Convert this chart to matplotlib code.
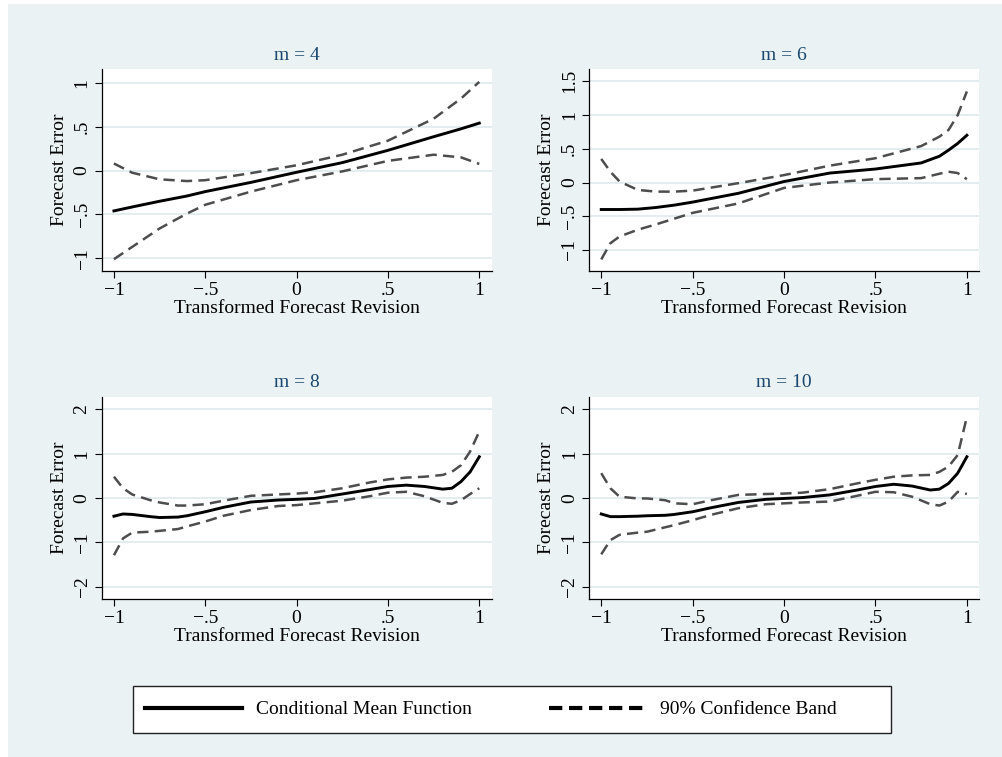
import matplotlib
matplotlib.use("Agg")
import matplotlib.pyplot as plt
from matplotlib.patches import Rectangle
from matplotlib.lines import Line2D

plt.rcParams['font.family'] = ['Liberation Serif', 'DejaVu Serif']

# values
x_m4 = [-1, -0.9, -0.75, -0.6, -0.5, -0.25, 0, 0.25, 0.5, 0.75, 0.9, 1]
mean_m4 = [-0.46, -0.415, -0.35, -0.29, -0.24, -0.135, -0.02, 0.09, 0.23, 0.385, 0.475, 0.54]
upper_m4 = [0.08, -0.025, -0.10, -0.12, -0.11, -0.03, 0.06, 0.18, 0.34, 0.59, 0.82, 1.01]
lower_m4 = [-1.01, -0.87, -0.66, -0.49, -0.39, -0.24, -0.11, -0.01, 0.11, 0.18, 0.15, 0.075]

x_m6 = [-1, -0.95, -0.9, -0.8, -0.7, -0.6, -0.5, -0.25, 0, 0.25, 0.5, 0.75, 0.85, 0.9, 0.95, 1]
mean_m6 = [-0.40, -0.40, -0.40, -0.395, -0.37, -0.335, -0.29, -0.16, 0.015, 0.14, 0.20, 0.29, 0.39, 0.48, 0.58, 0.70]
upper_m6 = [0.35, 0.16, 0.015, -0.11, -0.135, -0.135, -0.12, -0.01, 0.11, 0.25, 0.36, 0.54, 0.68, 0.78, 1.0, 1.35]
lower_m6 = [-1.14, -0.90, -0.80, -0.70, -0.62, -0.535, -0.45, -0.31, -0.08, 0.0, 0.05, 0.065, 0.13, 0.16, 0.14, 0.05]

x_m8 = [-1, -0.95, -0.9, -0.8, -0.75, -0.65, -0.6, -0.5, -0.4, -0.25, -0.1, 0,
        0.1, 0.25, 0.4, 0.5, 0.6, 0.7, 0.8, 0.85, 0.9, 0.95, 1]
mean_m8 = [-0.41, -0.36, -0.37, -0.42, -0.44, -0.43, -0.40, -0.31, -0.21, -0.09, -0.045, -0.03,
           -0.01, 0.09, 0.19, 0.26, 0.29, 0.26, 0.20, 0.22, 0.37, 0.59, 0.93]
upper_m8 = [0.48, 0.22, 0.08, -0.05, -0.10, -0.17, -0.17, -0.14, -0.06, 0.05, 0.08, 0.10,
            0.13, 0.22, 0.35, 0.42, 0.46, 0.48, 0.52, 0.59, 0.74, 1.05, 1.50]
lower_m8 = [-1.29, -0.91, -0.78, -0.76, -0.74, -0.70, -0.64, -0.53, -0.40, -0.27, -0.18, -0.16,
            -0.12, -0.06, 0.04, 0.12, 0.14, 0.04, -0.11, -0.13, -0.05, 0.09, 0.22]

x_m10 = x_m8
mean_m10 = [-0.36, -0.42, -0.42, -0.41, -0.40, -0.39, -0.37, -0.31, -0.22, -0.10, -0.03, -0.01,
            0.01, 0.07, 0.18, 0.26, 0.31, 0.27, 0.18, 0.20, 0.33, 0.56, 0.93]
upper_m10 = [0.56, 0.22, 0.03, -0.01, -0.01, -0.05, -0.12, -0.14, -0.05, 0.07, 0.09, 0.10,
             0.12, 0.20, 0.33, 0.41, 0.48, 0.51, 0.52, 0.59, 0.71, 0.97, 1.83]
lower_m10 = [-1.27, -0.95, -0.83, -0.78, -0.76, -0.66, -0.61, -0.50, -0.38, -0.23, -0.14, -0.12,
             -0.10, -0.08, 0.05, 0.14, 0.13, 0.03, -0.14, -0.17, -0.08, 0.14, 0.09]

titles = ["m = 4", "m = 6", "m = 8", "m = 10"]
xticks = [-1, -0.5, 0, 0.5, 1]
xticklabels = ["\u22121", "\u2212.5", "0", ".5", "1"]
yticks_m4 = [-1, -0.5, 0, 0.5, 1]
yticklabels_m4 = ["\u22121", "\u2212.5", "0", ".5", "1"]
yticks_m6 = [-1, -0.5, 0, 0.5, 1, 1.5]
yticklabels_m6 = ["\u22121", "\u2212.5", "0", ".5", "1", "1.5"]
yticks_m8 = [-2, -1, 0, 1, 2]
yticklabels_m8 = ["\u22122", "\u22121", "0", "1", "2"]
legend_labels = ["Conditional Mean Function", "90% Confidence Band"]

BG = "#EAF2F3"
W, H = 1003, 757

fig = plt.figure(figsize=(W / 100, H / 100), dpi=100, facecolor="white")
fig.patches.append(Rectangle((8 / W, 0), 1 - 8 / W, 1 - 4 / H, transform=fig.transFigure,
                             facecolor=BG, edgecolor="none", zorder=-10))

def box(l, r, t, b):
    return [l / W, 1 - b / H, (r - l) / W, (b - t) / H]

panels = [
    (box(101.7, 491.7, 69.3, 270.7), x_m4, mean_m4, upper_m4, lower_m4, yticks_m4, yticklabels_m4, (-1.141, 1.153)),
    (box(589, 979.3, 69.3, 270.7), x_m6, mean_m6, upper_m6, lower_m6, yticks_m6, yticklabels_m6, (-1.307, 1.678)),
    (box(101.7, 491.7, 396.7, 598.7), x_m8, mean_m8, upper_m8, lower_m8, yticks_m8, yticklabels_m8, (-2.27, 2.284)),
    (box(589, 979.3, 396.7, 598.7), x_m10, mean_m10, upper_m10, lower_m10, yticks_m8, yticklabels_m8, (-2.27, 2.284)),
]

for i, (rect, xs, mean, up, lo, yt, ytl, ylim) in enumerate(panels):
    ax = fig.add_axes(rect)
    ax.set_facecolor("white")
    for yv in yt:
        ax.axhline(yv, color="#E3EDEF", lw=1.4, zorder=0)
    ax.plot(xs, up, color="#4D4D4D", lw=1.8, dashes=(4.5, 2.5), zorder=2)
    ax.plot(xs, lo, color="#4D4D4D", lw=1.8, dashes=(4.5, 2.5), zorder=2)
    ax.plot(xs, mean, color="black", lw=2.1, zorder=3)
    ax.set_xlim(-1.067, 1.068)
    ax.set_ylim(*ylim)
    ax.set_xticks(xticks)
    ax.set_xticklabels(xticklabels)
    ax.set_yticks(yt)
    ax.set_yticklabels(ytl, rotation=90, va="center")
    ax.tick_params(direction="out", length=5, width=0.8, labelsize=14, pad=3)
    for s in ["top", "right"]:
        ax.spines[s].set_visible(False)
    for s in ["left", "bottom"]:
        ax.spines[s].set_linewidth(0.9)
    ax.set_title(titles[i], fontsize=14, color="#1A476F", pad=7)
    ax.set_ylabel("Forecast Error", fontsize=14, labelpad=4)
    ax.set_xlabel("Transformed Forecast Revision", fontsize=14, labelpad=1)

# legend: white box with border, entries laid out from the left
fig.patches.append(Rectangle((132.7 / W, 1 - 733.3 / H), (891 - 132.7) / W, 47.6 / H,
                             transform=fig.transFigure, facecolor="white",
                             edgecolor="#222222", lw=1.0, zorder=1))
handles = [Line2D([], [], color="black", lw=3),
           Line2D([], [], color="black", lw=3, dashes=(3.2, 1.6))]
leg = fig.legend(handles, legend_labels,
                 loc="center left", bbox_to_anchor=(145 / W, 1 - 709.5 / H),
                 ncol=2, fontsize=14, handlelength=5, handletextpad=0.72,
                 frameon=False, borderaxespad=0, borderpad=0, columnspacing=3.95)

plt.savefig("out.png", dpi=100, facecolor="white")
